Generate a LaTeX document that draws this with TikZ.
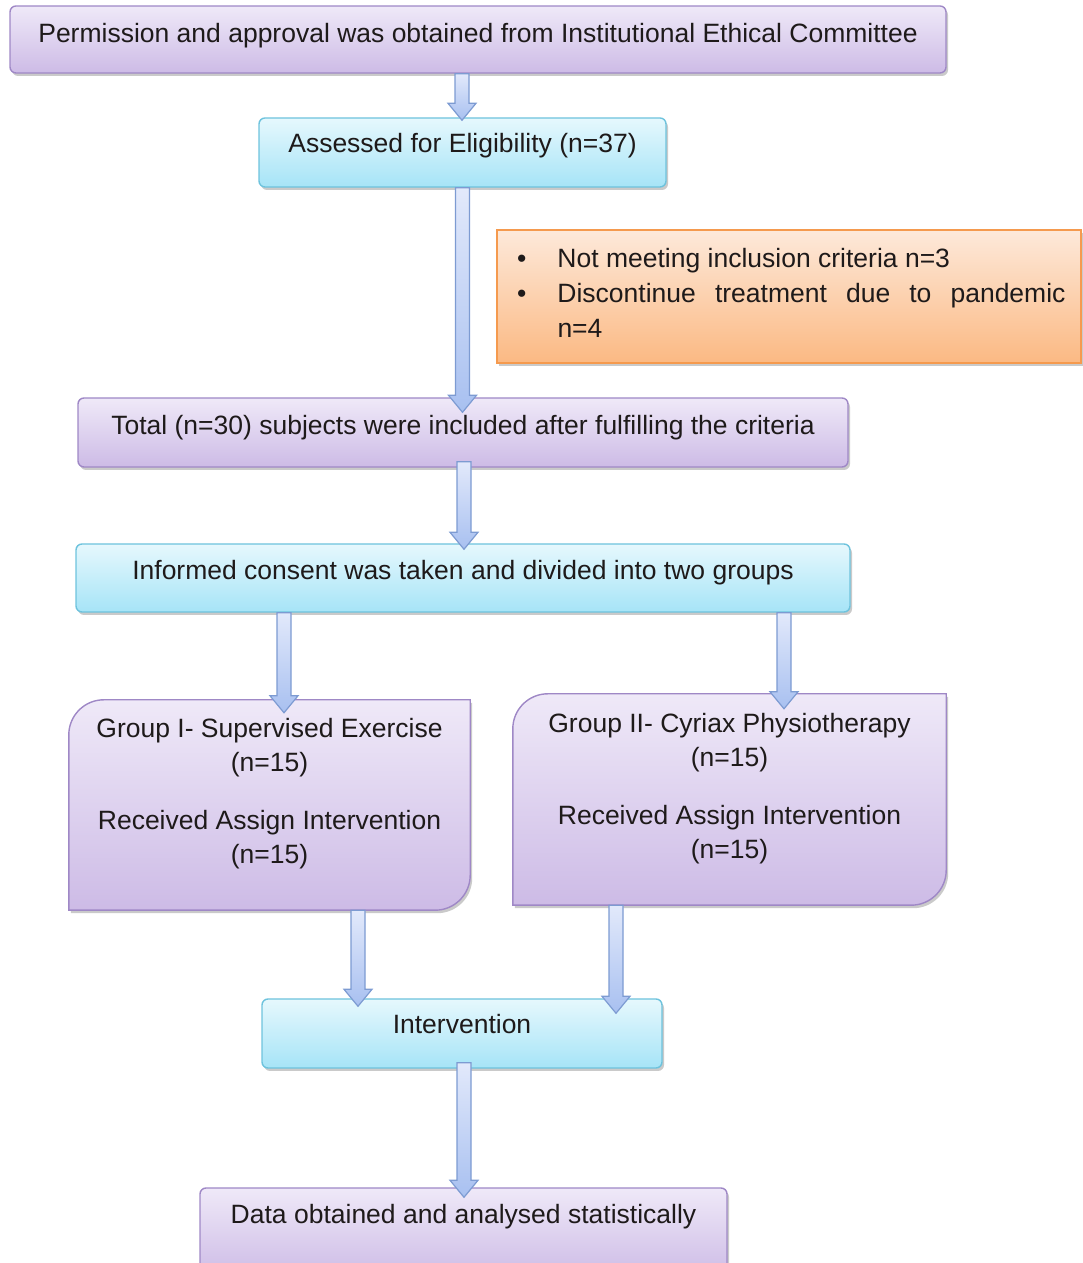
\documentclass[tikz,border=0pt]{standalone}
\usepackage{fontspec}
\setmainfont{Liberation Sans}
\usetikzlibrary{calc,shadows}
\definecolor{pTop}{HTML}{EFE9F8}
\definecolor{pBot}{HTML}{CDBBE6}
\definecolor{pLine}{HTML}{9F88C6}
\definecolor{cTop}{HTML}{E6F8FD}
\definecolor{cBot}{HTML}{A6E4F7}
\definecolor{cLine}{HTML}{6EC3DD}
\definecolor{oTop}{HTML}{FDE9DA}
\definecolor{oBot}{HTML}{FBB983}
\definecolor{oLine}{HTML}{F59A4E}
\definecolor{aTop}{HTML}{E2E9FB}
\definecolor{aBot}{HTML}{A8C0F0}
\definecolor{aLine}{HTML}{7D9BD2}
\definecolor{txt}{HTML}{1E1A1A}
\tikzset{
  x=1pt,y=1pt,
  shad/.style={drop shadow={shadow xshift=2pt,shadow yshift=-3pt,opacity=0.35,fill=black!60}},
  pbox/.style={shad,draw=pLine,line width=1.4pt,top color=pTop,bottom color=pBot,rounded corners=6pt,inner sep=0pt},
  cbox/.style={shad,draw=cLine,line width=1.4pt,top color=cTop,bottom color=cBot,rounded corners=6pt,inner sep=0pt},
  obox/.style={shad,draw=oLine,line width=1.4pt,top color=oTop,bottom color=oBot,inner sep=0pt},
  gbox/.style={shad,draw=pLine,line width=1.4pt,top color=pTop,bottom color=pBot},
  frame/.style={draw=none,inner sep=0pt},
  lbl/.style={anchor=north,inner sep=0pt,align=center,text=txt,font=\fontsize{26.5}{34}\selectfont},
  barrowst/.style={draw=aLine,line width=1.2pt,top color=aTop,bottom color=aBot,line join=miter},
}
\newcommand\blockarrow[2]{%
  \path[barrowst] ($(#1)+(-7,0)$) -- ($(#2)+(-7,17)$) -- ($(#2)+(-14,17)$) -- (#2)
    -- ($(#2)+(14,17)$) -- ($(#2)+(7,17)$) -- ($(#1)+(7,0)$) -- cycle;}
\begin{document}
\begin{tikzpicture}
\useasboundingbox (0,0) rectangle (1083,1263);
\begin{scope}
\clip (0,0) rectangle (1083,1263);
% boxes
\node[pbox,minimum width=936,minimum height=67] (top) at (478,1223.5) {};
\node[cbox,minimum width=407,minimum height=69] (ass) at (462.5,1110.5) {};
\node[obox,minimum width=584,minimum height=133] (exc) at (789,966.5) {};
\node[pbox,minimum width=770,minimum height=69] (tot) at (463,830.5) {};
\node[cbox,minimum width=774,minimum height=68] (inf) at (463,685) {};
\node[frame,minimum width=401,minimum height=210] (g1) at (269.5,458) {};
\node[frame,minimum width=433,minimum height=211] (g2) at (729.5,463.5) {};
\path[gbox] (g1.south west) -- ([yshift=-35]g1.north west) arc[start angle=180,end angle=90,radius=35]
  -- (g1.north east) -- ([yshift=35]g1.south east) arc[start angle=0,end angle=-90,radius=35] -- cycle;
\path[gbox] (g2.south west) -- ([yshift=-35]g2.north west) arc[start angle=180,end angle=90,radius=35]
  -- (g2.north east) -- ([yshift=35]g2.south east) arc[start angle=0,end angle=-90,radius=35] -- cycle;
\node[cbox,minimum width=400,minimum height=69] (intv) at (462,229.5) {};
\node[pbox,minimum width=527,minimum height=90] (data) at (463.5,30) {};
% texts
\node[lbl] (top-t) at ([yshift=-18]top.north) {Permission and approval was obtained from Institutional Ethical Committee};
\node[lbl] (ass-t) at ([yshift=-16]ass.north) {Assessed for Eligibility (n=37)};
\node[lbl,anchor=north west,align=left] (exc-t) at ([xshift=61,yshift=-19]exc.north west)
  {\parbox[t]{508pt}{\fontsize{26.5}{35}\selectfont
   \leavevmode\llap{•\hspace{31pt}}Not meeting inclusion criteria n=3\par
   \leavevmode\llap{•\hspace{31pt}}Discontinue treatment due to pandemic\linebreak n=4}};
\node[lbl] (tot-t) at ([yshift=-18]tot.north) {Total (n=30) subjects were included after fulfilling the criteria};
\node[lbl] (inf-t) at ([yshift=-17]inf.north) {Informed consent was taken and divided into two groups};
\node[lbl] (g1-t) at ([yshift=-18]g1.north) {Group I- Supervised Exercise\\(n=15)\\[24pt]Received Assign Intervention\\(n=15)};
\node[lbl] (g2-t) at ([yshift=-19]g2.north) {Group II- Cyriax Physiotherapy\\(n=15)\\[24pt]Received Assign Intervention\\(n=15)};
\node[lbl] (intv-t) at ([yshift=-16]intv.north) {Intervention};
\node[lbl] (data-t) at ([yshift=-17]data.north) {Data obtained and analysed statistically};
% arrows
\coordinate (a1s) at ([xshift=-16]top.south);
\coordinate (a1e) at ($(a1s |- ass.north)+(0,-3)$);
\blockarrow{a1s}{a1e}
\coordinate (a2s) at (ass.south);
\coordinate (a2e) at ($(a2s |- tot.north)+(0,-15)$);
\blockarrow{a2s}{a2e}
\coordinate (a3s) at ([xshift=1,yshift=6]tot.south);
\coordinate (a3e) at ($(a3s |- inf.north)+(0,-6)$);
\blockarrow{a3s}{a3e}
\coordinate (a4s) at ([xshift=-179]inf.south);
\coordinate (a4e) at ($(a4s |- g1.north)+(0,-13)$);
\blockarrow{a4s}{a4e}
\coordinate (a5s) at ([xshift=321]inf.south);
\coordinate (a5e) at ($(a5s |- g2.north)+(0,-15)$);
\blockarrow{a5s}{a5e}
\coordinate (a6s) at ([xshift=88.5]g1.south);
\coordinate (a6e) at ($(a6s |- intv.north)+(0,-8)$);
\blockarrow{a6s}{a6e}
\coordinate (a7s) at ([xshift=-113.5]g2.south);
\coordinate (a7e) at ($(a7s |- intv.north)+(0,-15)$);
\blockarrow{a7s}{a7e}
\coordinate (a8s) at ([xshift=2,yshift=6]intv.south);
\coordinate (a8e) at ($(a8s |- data.north)+(0,-10)$);
\blockarrow{a8s}{a8e}
\end{scope}
\end{tikzpicture}
\end{document}
